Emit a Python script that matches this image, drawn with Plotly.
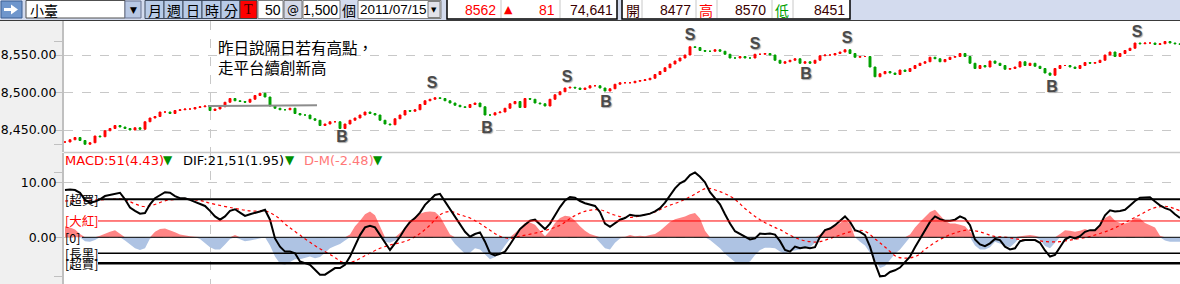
import plotly.graph_objects as go

W, H = 1180, 284

# ---------------- data ----------------
price_close = [
    8434, 8437, 8440, 8436, 8431, 8433, 8442, 8441, 8449, 8452,
    8456, 8454, 8452, 8450, 8453, 8451, 8461, 8466, 8468, 8474,
    8474, 8472, 8476, 8477, 8478, 8478, 8480, 8481, 8482, 8476,
    8478, 8481, 8487, 8492, 8489, 8488, 8487, 8491, 8496, 8499,
    8494, 8482, 8479, 8477, 8477, 8479, 8472, 8470, 8470, 8465,
    8463, 8456, 8458, 8461, 8461, 8452, 8458, 8463, 8466, 8470,
    8474, 8472, 8470, 8463, 8458, 8457, 8465, 8470, 8476, 8475,
    8477, 8484, 8489, 8491, 8493, 8492, 8489, 8486, 8483, 8481,
    8480, 8484, 8486, 8481, 8470, 8470, 8473, 8474, 8479, 8485,
    8488, 8480, 8492, 8491, 8486, 8485, 8482, 8491, 8497, 8501,
    8506, 8507, 8506, 8504, 8506, 8509, 8509, 8506, 8502, 8505,
    8511, 8513, 8513, 8513, 8515, 8516, 8517, 8519, 8524, 8528,
    8533, 8538, 8542, 8546, 8550, 8561, 8560, 8556, 8555, 8555,
    8557, 8555, 8551, 8546, 8546, 8548, 8546, 8546, 8551, 8551,
    8552, 8550, 8543, 8539, 8541, 8543, 8545, 8539, 8541, 8539,
    8543, 8549, 8550, 8550, 8552, 8554, 8557, 8552, 8547, 8548,
    8548, 8534, 8521, 8525, 8528, 8526, 8524, 8530, 8528, 8532,
    8536, 8539, 8541, 8547, 8545, 8541, 8544, 8547, 8548, 8552,
    8548, 8539, 8532, 8536, 8534, 8542, 8539, 8536, 8531, 8532,
    8534, 8541, 8536, 8539, 8535, 8532, 8526, 8523, 8532, 8536,
    8536, 8534, 8532, 8536, 8540, 8539, 8540, 8543, 8550, 8554,
    8548, 8552, 8556, 8559, 8566, 8565, 8566, 8566, 8564, 8565,
    8568, 8566, 8565, 8564,
]

dif = [
    8.6, 8.7, 8.6, 8.1, 6.8, 6.3, 6.5, 6.9, 7.5, 7.7,
    8.0, 8.1, 6.9, 5.4, 4.8, 4.3, 4.4, 6.0, 7.1, 7.7,
    8.2, 8.1, 7.5, 7.1, 7.1, 6.8, 6.4, 6.1, 5.7, 4.8,
    3.8, 3.2, 3.8, 4.8, 5.1, 4.5, 3.9, 4.2, 4.4, 4.7,
    5.0, 3.2, -0.2, -1.7, -2.6, -2.6, -2.9, -4.4, -4.7, -5.0,
    -5.9, -6.8, -6.8, -6.2, -5.6, -5.6, -5.0, -3.5, -1.4, 0.4,
    1.8, 2.1, 1.8, 0.4, -1.1, -2.3, -1.1, 0.1, 1.6, 2.8,
    3.5, 4.5, 5.9, 6.9, 7.7, 7.9, 6.5, 5.3, 3.8, 2.5,
    1.0, 0.1, 0.6, 0.9, -0.8, -2.9, -3.3, -3.0, -2.6, -1.3,
    0.2, 1.5, 2.3, 3.0, 3.2, 2.3, 1.5, 2.5, 4.0, 5.5,
    6.7, 7.3, 7.2, 6.6, 6.2, 6.0, 5.7, 4.6, 2.5, 1.9,
    2.5, 3.2, 3.5, 4.1, 3.9, 3.9, 4.1, 4.3, 4.7, 5.3,
    6.3, 7.7, 8.9, 9.8, 10.3, 11.3, 11.8, 11.0, 10.0, 8.2,
    7.1, 6.0, 4.2, 2.5, 1.1, 0.6, 0.2, -0.4, -0.2, 0.7,
    0.6, 0.7, 0.5, -0.7, -2.3, -2.6, -1.7, -2.0, -1.8, -2.0,
    -1.8, 0.1, 1.3, 1.6, 2.2, 3.0, 3.8, 2.8, 1.3, 1.0,
    0.4, -1.7, -4.7, -7.1, -7.0, -6.3, -6.0, -5.5, -4.4, -3.5,
    -1.8, -0.2, 1.3, 2.8, 3.8, 3.3, 3.0, 3.0, 3.2, 3.8,
    3.4, 2.2, -0.4, -1.3, -1.6, -1.1, -0.3, -0.5, -1.7, -2.2,
    -2.0, -0.7, -0.5, -0.5, -0.5, -1.0, -2.4, -3.5, -3.2, -1.8,
    -0.4, 0.1, -0.2, 0.2, 1.0, 1.3, 1.3, 2.2, 4.0, 4.9,
    4.7, 4.8, 5.0, 5.8, 6.6, 7.2, 7.3, 7.3, 6.5, 5.8,
    5.3, 5.0, 4.2, 3.5,
]

osc = [
    2.0, 1.8, 1.4, 0.6, -0.7, -0.8, -0.5, 0.3, 0.7, 1.0,
    1.3, 0.6, -0.6, -1.3, -2.0, -2.3, -2.0, -0.2, 1.0, 1.5,
    1.6, 1.3, 0.9, 0.5, 0.3, 0.2, 0.1, -0.3, -1.0, -1.8,
    -2.2, -2.2, -1.3, -0.3, 0.4, -0.3, -0.7, -0.6, -0.4, -0.2,
    0.1, -1.5, -3.5, -4.8, -5.0, -4.5, -4.0, -4.0, -3.8, -3.5,
    -3.8, -3.6, -2.8, -2.0, -1.6, -1.2, -0.6, 0.5, 2.0, 3.0,
    4.2, 4.7, 4.0, 2.0, -0.8, -1.0, -0.6, 0.8, 1.8, 3.0,
    3.8, 4.3, 4.6, 4.7, 4.6, 3.8, 2.2, 0.5, -1.2, -2.2,
    -3.0, -2.8, -2.0, -2.2, -3.2, -4.0, -3.6, -2.8, -1.5, -0.3,
    0.8, 1.8, 2.6, 2.7, 2.3, 1.2, 0.2, 1.2, 2.6, 3.5,
    3.9, 3.8, 3.0, 2.0, 1.2, 0.6, 0.3, -1.0, -2.0, -2.2,
    -1.0, -0.2, 0.1, 0.4, 0.2, 0.3, 0.2, 0.4, 0.6, 1.2,
    2.0, 2.8, 3.3, 3.5, 3.8, 4.2, 4.4, 3.4, 1.2, -0.5,
    -1.3, -2.0, -3.0, -3.8, -4.5, -4.7, -4.7, -4.4, -3.2, -2.3,
    -1.9, -1.9, -2.0, -2.6, -3.0, -2.6, -2.4, -2.2, -2.0, -1.8,
    -1.0, 0.5, 1.4, 1.8, 2.0, 2.6, 3.2, 2.5, 0.0, -0.8,
    -1.5, -2.8, -4.2, -5.6, -5.2, -4.0, -3.0, -2.2, -1.0, 0.5,
    1.8, 2.8, 3.8, 4.6, 5.0, 4.0, 3.0, 2.5, 2.5, 2.3,
    2.0, 1.0, -1.5, -2.2, -2.2, -1.8, -0.8, -1.2, -1.5, -1.8,
    -1.0, 0.2, 0.3, 0.4, 0.3, -0.5, -1.6, -2.0, -1.0, 0.6,
    1.3, 1.2, 1.0, 1.2, 1.5, 1.2, 1.4, 2.3, 3.5, 4.0,
    3.0, 2.6, 2.5, 2.8, 3.5, 3.4, 2.6, 2.2, 1.8, 0.3,
    -0.6, -0.8, -0.8, -0.8,
]

sig_index = [
    0, 7, 11.7, 13.7, 15.7, 17.7, 20.3, 23.7, 27, 29,
    33.7, 37, 40.3, 42.3, 44.3, 47, 50.3, 53.7, 55.7, 57.7,
    60.3, 63, 65, 67, 69, 71, 73, 75, 77, 79,
    81, 83, 85, 87, 89, 91, 93.7, 96.3, 99, 101.7,
    104.3, 107, 109.7, 112.3, 115, 117.7, 120.3, 123, 125.7, 128.3,
    131, 133.7, 136.3, 139, 141.7, 143, 145, 147, 149, 151,
    153, 155, 157, 159.7, 162.3, 164.3, 166.3, 168.3, 170.3, 172.3,
    175, 177.7, 180.3, 183, 185.7, 188.3, 191, 193.7, 196.3, 199,
    201.7, 204.3, 207, 209.7, 212.3, 215, 217.7, 220.3, 223,
]
sig_value = [
    6.6, 6.8, 6.9, 6.2, 5.6, 5.9, 6.7, 6.9, 6.7, 6.2,
    5.3, 4.8, 4.7, 3.8, 2.2, 0.4, -1.7, -3.5, -4.6, -4.4,
    -3.2, -2.0, -1.4, -1.0, -0.4, 0.7, 2.2, 4.1, 4.7, 4.1,
    3.5, 2.5, 1.3, 0.2, -0.2, 0.2, 0.7, 1.3, 2.2, 3.8,
    4.8, 5.0, 4.1, 3.6, 3.9, 4.5, 5.6, 6.5, 7.7, 8.9,
    8.3, 7.1, 5.0, 3.2, 1.9, 1.4, 0.4, -0.4, -0.8, -0.8,
    -0.2, 0.4, 1.0, 1.2, -0.5, -2.0, -3.5, -3.8, -3.4, -2.0,
    -0.4, 0.7, 1.3, 1.0, 0.2, 0.0, -0.4, -0.5, -0.8, -0.8,
    -0.4, 0.0, 0.7, 1.6, 2.8, 4.1, 5.3, 5.6, 4.8,
]

sb_index = [55.4, 73.4, 84.4, 100.4, 108.2, 125.0, 138.0, 148.2, 156.4, 197.4, 214.4]
sb_price = [8439, 8512, 8452, 8520, 8486, 8575, 8563, 8523, 8572, 8506, 8579]
sb_label = ["B", "S", "B", "S", "B", "S", "S", "B", "S", "B", "S"]

trend_index = [28.6, 50.4]
trend_price = [8482, 8483]

level_values = [6.9, 2.97, 0.0, -2.9, -4.73]
level_labels = ["[超買]", "[大紅]", "[0]", "[長黑]", "[超賣]"]
level_colors = ["#000000", "#ff0000", "#000000", "#000000", "#000000"]
level_widths = [2, 1, 1, 1.5, 2.5]

time_grid_index = [29]
price_ticks = [8450, 8500, 8550]
price_tick_text = ["8,450.00", "8,500.00", "8,550.00"]
macd_ticks = [0, 10]
macd_tick_text = ["0.00", "10.00"]

note_lines = ["昨日說隔日若有高點，", "走平台續創新高"]

# ---------------- derived ----------------
n = len(price_close)
idx = list(range(n))
opens = [price_close[0]] + price_close[:-1]
highs = [max(o, c) for o, c in zip(opens, price_close)]
lows = [min(o, c) for o, c in zip(opens, price_close)]
osc_pos = [v if v > 0 else 0 for v in osc]
osc_neg = [v if v < 0 else 0 for v in osc]


def PX(x):
    return x / W


def PY(y):
    return 1 - y / H


CJK = "Noto Sans CJK TC"
NUM = "Liberation Sans Narrow, Liberation Sans, Arial"
UI = "DejaVu Sans"

fig = go.Figure()

# price candles
fig.add_trace(go.Candlestick(
    x=idx, open=opens, high=highs, low=lows, close=price_close,
    increasing=dict(line=dict(color="#ff0000", width=1), fillcolor="#ff0000"),
    decreasing=dict(line=dict(color="#00a000", width=1), fillcolor="#00a000"),
    whiskerwidth=0, hoverinfo="skip", showlegend=False, xaxis="x", yaxis="y"))

fig.add_trace(go.Scatter(
    x=trend_index, y=trend_price, mode="lines",
    line=dict(color="#8c8c8c", width=2), hoverinfo="skip", showlegend=False,
    xaxis="x", yaxis="y"))

fig.add_trace(go.Scatter(
    x=sb_index, y=sb_price, mode="text", text=sb_label,
    textposition="middle center",
    textfont=dict(family="Liberation Sans, Arial", size=16, color="#4a4a4a",
                  weight="bold", shadow="1px 1px 1px #a8a8a8"),
    hoverinfo="skip", showlegend=False, xaxis="x", yaxis="y"))

# MACD panel
fig.add_trace(go.Scatter(
    x=idx, y=osc_pos, mode="lines", fill="tozeroy", fillcolor="#ff8585",
    line=dict(width=0, color="#ff8585"), hoverinfo="skip", showlegend=False,
    xaxis="x2", yaxis="y2"))
fig.add_trace(go.Scatter(
    x=idx, y=osc_neg, mode="lines", fill="tozeroy", fillcolor="#aec3e3",
    line=dict(width=0, color="#aec3e3"), hoverinfo="skip", showlegend=False,
    xaxis="x2", yaxis="y2"))
fig.add_trace(go.Scatter(
    x=sig_index, y=sig_value, mode="lines",
    line=dict(color="#ff0000", width=1.2, dash="dot", shape="spline"),
    hoverinfo="skip", showlegend=False, xaxis="x2", yaxis="y2"))
fig.add_trace(go.Scatter(
    x=idx, y=dif, mode="lines", line=dict(color="#000000", width=2),
    hoverinfo="skip", showlegend=False, xaxis="x2", yaxis="y2"))

x_left = 64
price_top, price_bot = 21, 152
macd_top, macd_bot = 153, 284
p_per_px = 0.75
m_per_px = 5.5
price_range = [8500 - (price_bot - 92.5) / p_per_px, 8500 + (92.5 - price_top) / p_per_px]
macd_range = [(237.3 - macd_bot) / m_per_px, (237.3 - macd_top) / m_per_px]
x_range = [-0.2, n - 1]

xa = dict(domain=[PX(x_left), 1], range=x_range, showticklabels=False, ticks="",
          tickvals=time_grid_index, showgrid=True, gridcolor="#c8c8c8",
          griddash="dash", gridwidth=1, zeroline=False, showline=False,
          rangeslider=dict(visible=False), fixedrange=True)
ya_common = dict(showgrid=True, gridcolor="#c8c8c8", griddash="dash", zeroline=False,
                 ticks="outside", ticklen=8, tickcolor="#c0c0c0", tickwidth=1,
                 showline=True, linecolor="#c0c0c0", linewidth=2,
                 tickfont=dict(family=UI, size=12.5, color="#000000"),
                 ticklabelstandoff=-5)

fig.update_layout(
    width=W, height=H, margin=dict(l=0, r=0, t=0, b=0),
    paper_bgcolor="#f0f0f0", plot_bgcolor="#ffffff", showlegend=False,
    boxgap=0.45,
    xaxis=dict(xa, anchor="y"),
    xaxis2=dict(xa, anchor="y2", matches="x"),
    yaxis=dict(ya_common, domain=[PY(price_bot), PY(price_top)], range=price_range,
               tickvals=price_ticks, ticktext=price_tick_text, anchor="x",
               minor=dict(tickvals=[min(lows), max(highs)], ticks="outside",
                          ticklen=8, tickcolor="#c0c0c0", showgrid=False)),
    yaxis2=dict(ya_common, domain=[PY(macd_bot), PY(macd_top)], range=macd_range,
                tickvals=macd_ticks, ticktext=macd_tick_text, anchor="x2",
                minor=dict(tickvals=[min(dif), max(dif)], ticks="outside",
                           ticklen=8, tickcolor="#c0c0c0", showgrid=False)),
)

shapes = []


def rect(x0, y0, x1, y1, fill, line=None, lw=1):
    shapes.append(dict(type="rect", xref="paper", yref="paper",
                       x0=PX(x0), x1=PX(x1), y0=PY(y1), y1=PY(y0),
                       fillcolor=fill, line=dict(color=line or fill, width=lw if line else 0),
                       layer="above"))


def seg(x0, y0, x1, y1, color, width=1):
    shapes.append(dict(type="line", xref="paper", yref="paper",
                       x0=PX(x0), x1=PX(x1), y0=PY(y0), y1=PY(y1),
                       line=dict(color=color, width=width), layer="above"))


annots = []


def txt(s, x, y, size=12, color="#000000", family=UI, anchor="left", yref="paper",
        height=None):
    a = dict(text=s, x=PX(x), y=(PY(y) if yref == "paper" else y),
             xref="paper", yref=yref, xanchor=anchor, yanchor="middle",
             showarrow=False, font=dict(family=family, size=size, color=color),
             borderpad=0)
    if height is not None:
        a["height"] = height
    annots.append(a)


# MACD level lines
level_starts = [98, 98, 82, 98, 98]
for v, c, w, xs in zip(level_values, level_colors, level_widths, level_starts):
    shapes.append(dict(type="line", xref="paper", yref="y2", x0=PX(xs), x1=1,
                       y0=v, y1=v, line=dict(color=c, width=w), layer="above"))
for v, lab, c in zip(level_values, level_labels, level_colors):
    txt(lab, 64, v, size=12.5, color=c, family=CJK, yref="y2")

# panel separator
seg(x_left, 152.5, W, 152.5, "#c8c8c8", 1.5)

# toolbar
rect(0, 0, W, 20, "#d3dbee")
seg(0, 20.5, W, 20.5, "#3a3a3a", 1)
# arrow button
rect(1, 1, 22, 18, "#6f96cc", "#3d5f92")
arrow = [(4, 8), (11, 8), (11, 4.5), (18, 9.5), (11, 14.5), (11, 11), (4, 11)]
path = "M " + " L ".join(f"{PX(a):.5f},{PY(b):.5f}" for a, b in arrow) + " Z"
shapes.append(dict(type="path", xref="paper", yref="paper", path=path,
                   fillcolor="#ffffff", line=dict(color="#ffffff", width=0), layer="above"))
# combo box
rect(26, 0.5, 125, 18, "#ffffff", "#505050")
txt("小臺", 29, 10, size=14, family=CJK)
rect(125, 1, 141, 18, "#b8c8e4", "#6a7490")
txt("▼", 133, 10, size=9, anchor="center")
# period buttons
bx = [145, 164, 183, 202, 221, 240]
for lab, a, b in zip(["月", "週", "日", "時", "分"], bx[:-1], bx[1:]):
    rect(a, 0.5, b, 18.5, "#b8cbe8", "#3f4a5e")
    txt(lab, (a + b) / 2, 10, size=14, family=CJK, anchor="center")
rect(240, 0.5, 257, 18.5, "#ff0000", "#404040")
txt("T", 248.5, 10, size=14, family="Liberation Serif", color="#3a0000", anchor="center")
rect(258, 0.5, 283, 18.5, "#ffffff", "#808080")
txt("50", 282, 10, size=14, family=NUM, anchor="right")
rect(284, 0.5, 302, 18.5, "#d4d9e8", "#707070")
txt("@", 293, 10, size=12, family=UI, anchor="center")
rect(303, 0.5, 340, 18.5, "#ffffff", "#808080")
txt("1,500", 339, 10, size=14, family=NUM, anchor="right")
txt("個", 341, 10, size=14, family=CJK)
rect(358, 0.5, 441, 18.5, "#ffffff", "#808080")
txt("2011/07/15", 359, 10, size=13.5, family=NUM)
rect(428, 1.5, 440, 17.5, "#e2e2ea", "#808080")
txt("▼", 434, 10, size=7, anchor="center")
# quote boxes
rect(447, -2, 617, 19, "#ffffff", "#000000", 1.5)
seg(501, 0, 501, 18, "#c8c8c8")
seg(560, 0, 560, 18, "#c8c8c8")
txt("8562", 497, 10, size=14, family=NUM, color="#ff0000", anchor="right")
txt("▲", 508, 10, size=11, color="#ff0000", anchor="center")
txt("81", 556, 10, size=14, family=NUM, color="#ff0000", anchor="right")
txt("74,641", 614, 10, size=14, family=NUM, color="#3a0000", anchor="right")
rect(622, -2, 850, 19, "#ffffff", "#000000", 1.5)
for dx in [642, 696, 717, 772, 793]:
    seg(dx, 0, dx, 18, "#c8c8c8")
txt("開", 633, 10, size=14, family=CJK, color="#3a0000", anchor="center")
txt("8477", 692, 10, size=14, family=NUM, color="#3a0000", anchor="right")
txt("高", 706, 10, size=14, family=CJK, color="#ff0000", anchor="center")
txt("8570", 767, 10, size=14, family=NUM, color="#3a0000", anchor="right")
txt("低", 782, 10, size=14, family=CJK, color="#00a000", anchor="center")
txt("8451", 846, 10, size=14, family=NUM, color="#3a0000", anchor="right")

# note in price panel
txt(note_lines[0], 217, 46.5, size=15.5, family=CJK, height=19)
txt(note_lines[1], 217, 66.5, size=15.5, family=CJK, height=19)

# MACD title
txt("MACD:51(4.43)", 64, 160, size=13, color="#ff0000")
txt("▼", 168, 160, size=12, color="#009000", anchor="center")
txt("DIF:21,51(1.95)", 182, 160, size=13, color="#000000")
txt("▼", 290, 160, size=12, color="#009000", anchor="center")
txt("D-M(-2.48)", 303, 160, size=13, color="#ff7878")
txt("▼", 378, 160, size=12, color="#009000", anchor="center")

fig.update_layout(shapes=shapes, annotations=annots)
fig.write_html("out.html")
